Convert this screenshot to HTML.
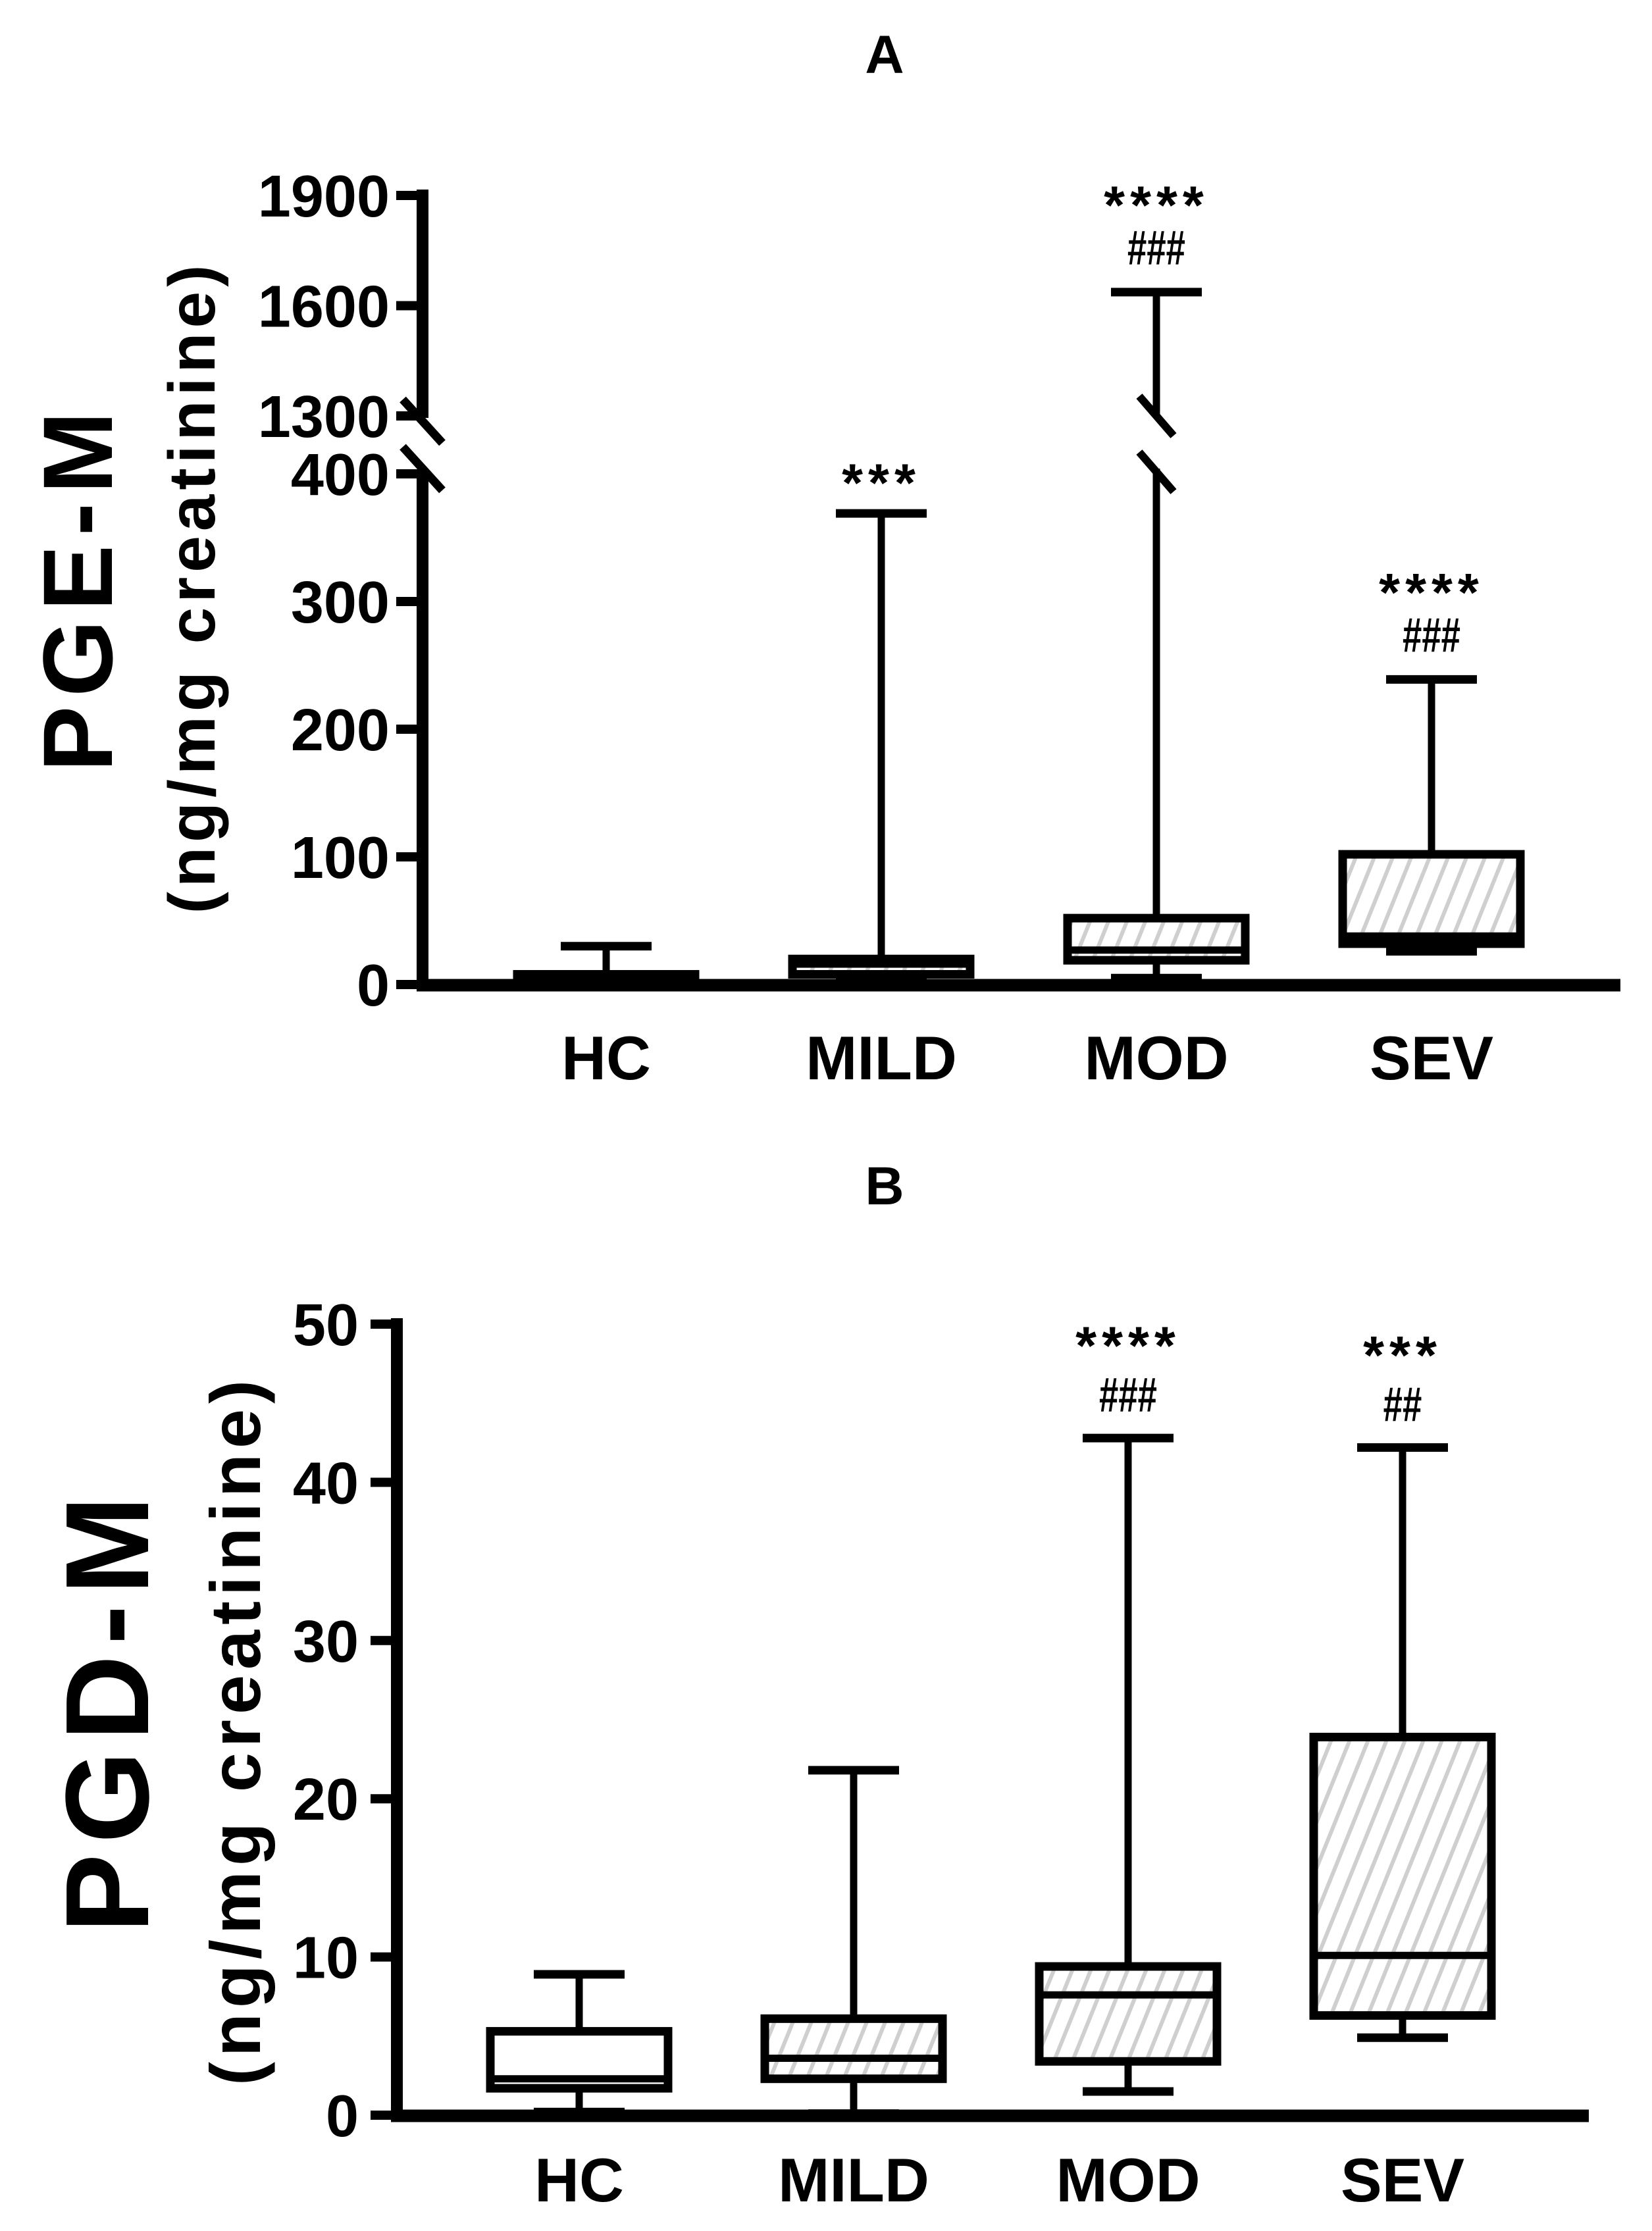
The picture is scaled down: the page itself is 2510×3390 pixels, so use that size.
<!DOCTYPE html>
<html><head><meta charset="utf-8">
<style>
html,body{margin:0;padding:0;background:#fff;}
svg{display:block;}
text{font-family:"Liberation Sans",Arial,sans-serif;font-weight:bold;fill:#000;}
</style></head>
<body>
<svg id="chart" width="2510" height="3390" viewBox="0 0 2510 3390" xmlns="http://www.w3.org/2000/svg">
<defs>
<pattern id="hatch" patternUnits="userSpaceOnUse" width="26" height="40" patternTransform="rotate(22)">
<line x1="6" y1="0" x2="6" y2="40" stroke="#cfcfcf" stroke-width="6"/>
</pattern>
</defs>
<g id="panelA"></g>
<g id="panelB"></g>
</svg>
<script>
// Panel A data
const catsA = ["HC","MILD","MOD","SEV"];
const minA = [0, 2, 5, 26];
const q1A = [1, 8, 19, 32];
const medA = [4, 16, 27, 38];
const q3A = [8, 20, 52, 102];
const maxA = [30, 369, 1637, 239];
const hatchA = [false, true, true, true];
const starsA = ["", "***", "****", "****"];
const hashA = ["", "", "###", "###"];
const ticksLowA = [0, 100, 200, 300, 400];
const ticksHighA = [1300, 1600, 1900];

// Panel B data
const catsB = ["HC","MILD","MOD","SEV"];
const minB = [0.2, 0.1, 1.5, 4.9];
const q1B = [1.7, 2.3, 3.4, 6.3];
const medB = [2.3, 3.6, 7.6, 10.1];
const q3B = [5.3, 6.1, 9.4, 23.9];
const maxB = [8.9, 21.8, 42.8, 42.2];
const hatchB = [false, true, true, true];
const starsB = ["", "", "****", "***"];
const hashB = ["", "", "###", "##"];
const ticksB = [0, 10, 20, 30, 40, 50];

const NS = "http://www.w3.org/2000/svg";
function mk(parent, tag, attrs, txt){
  const e = document.createElementNS(NS, tag);
  for (const k in attrs) e.setAttribute(k, attrs[k]);
  if (txt !== undefined) e.textContent = txt;
  parent.appendChild(e);
  return e;
}

function yA(v){
  if (v <= 400) return 1496 - v * (1496 - 720) / 400;
  return 632 - (v - 1300) * (632 - 297) / 600;
}
function xA(i){ return 921 + i * 418; }
function yB(v){ return 3214 - v * (3214 - 2012) / 50; }
function xB(i){ return 880 + i * 417; }

function drawBox(g, x, y, mn, q1, md, q3, mx, hatch, name, breakAt){
  const bw = 270, cw = 138;
  const bx = mk(g, "rect", {x: x - bw/2, y: y(q3), width: bw, height: Math.max(y(q1) - y(q3), 1), fill: hatch ? "url(#hatch)" : "#fff", stroke: "#000", "stroke-width": 13});
  
  
  const med = mk(g, "line", {x1: x - bw/2, x2: x + bw/2, y1: y(md), y2: y(md), stroke: "#000", "stroke-width": 11});
  
  
  if (breakAt) {
    const w1 = mk(g, "line", {x1: x, x2: x, y1: y(q3) - 6, y2: 712, stroke: "#000", "stroke-width": 11});
    
    
    const w2 = mk(g, "line", {x1: x, x2: x, y1: 632, y2: y(mx), stroke: "#000", "stroke-width": 11});
    
    
    for (const cy of [632, 717]) {
      const s = mk(g, "line", {x1: x - 26, y1: cy - 30, x2: x + 26, y2: cy + 30, stroke: "#000", "stroke-width": 12});
      
      
    }
  } else {
    const w = mk(g, "line", {x1: x, x2: x, y1: y(q3) - 6, y2: y(mx), stroke: "#000", "stroke-width": 11});
    
    
  }
  const cap = mk(g, "line", {x1: x - cw/2, x2: x + cw/2, y1: y(mx), y2: y(mx), stroke: "#000", "stroke-width": 13});
  
  
  const lw = mk(g, "line", {x1: x, x2: x, y1: y(q1) + 6, y2: y(mn), stroke: "#000", "stroke-width": 11});
  
  
  const lc = mk(g, "line", {x1: x - cw/2, x2: x + cw/2, y1: y(mn), y2: y(mn), stroke: "#000", "stroke-width": 13});
  
  
}

function annotate(g, x, capY, stars, hash, name, starDy, hashDy){
  if (stars) {
    const t = mk(g, "text", {x: x, y: capY - starDy, "text-anchor": "middle", "font-size": 82, "font-weight": "bold", "letter-spacing": 8}, stars);
    
    
  }
  if (hash) {
    const hy = capY - hashDy;
    const h = mk(g, "text", {x: x, y: hy, "text-anchor": "middle", "font-size": 62, "font-weight": "bold", transform: "translate(" + x + "," + hy + ") scale(0.85,1.2) translate(" + (-x) + "," + (-hy) + ")"}, hash);
    
    
  }
}

// ---------- Panel A ----------
const gA = document.getElementById("panelA");
const tA = mk(gA, "text", {x: 1344, y: 111, "text-anchor": "middle", "font-size": 82}, "A");



const axA = 642;
const ax1 = mk(gA, "line", {x1: axA, x2: axA, y1: 288, y2: 635, stroke: "#000", "stroke-width": 18});


const ax2 = mk(gA, "line", {x1: axA, x2: axA, y1: 713, y2: 1506, stroke: "#000", "stroke-width": 18});


for (const cy of [640, 712]) {
  const s = mk(gA, "line", {x1: axA - 30, y1: cy - 33, x2: axA + 30, y2: cy + 33, stroke: "#000", "stroke-width": 13});
  
  
}
const xaA = mk(gA, "line", {x1: axA - 9, x2: 2462, y1: 1497, y2: 1497, stroke: "#000", "stroke-width": 19});



for (const v of ticksLowA.concat(ticksHighA)) {
  const y = yA(v);
  const tk = mk(gA, "line", {x1: axA - 40, x2: axA, y1: y, y2: y, stroke: "#000", "stroke-width": 14});
  
  
  const lb = mk(gA, "text", {x: 592, y: y + 32, "text-anchor": "end", "font-size": 90}, String(v));
  
  
}
const yt1 = mk(gA, "text", {x: 0, y: 0, transform: "translate(170,892) rotate(-90)", "text-anchor": "middle", "font-size": 150, "letter-spacing": 14}, "PGE-M");


const ys1 = mk(gA, "text", {x: 0, y: 0, transform: "translate(326,892) rotate(-90)", "text-anchor": "middle", "font-size": 100, "letter-spacing": 7}, "(ng/mg creatinine)");



catsA.forEach((c, i) => {
  const x = xA(i);
  const nm = 'panel-a-' + c.toLowerCase();
  drawBox(gA, x, yA, minA[i], q1A[i], medA[i], q3A[i], maxA[i], hatchA[i], nm, maxA[i] > 400);
  annotate(gA, x, yA(maxA[i]), starsA[i], hashA[i], nm, hashA[i] ? 104 : 18, 42);
  const lb = mk(gA, "text", {x: x, y: 1640, "text-anchor": "middle", "font-size": 94}, c);
  
  
});

// ---------- Panel B ----------
const gB = document.getElementById("panelB");
const tB = mk(gB, "text", {x: 1344, y: 1830, "text-anchor": "middle", "font-size": 82}, "B");


const axB = 603;
const ayB = mk(gB, "line", {x1: axB, x2: axB, y1: 2003, y2: 3224, stroke: "#000", "stroke-width": 18});


const xaB = mk(gB, "line", {x1: axB - 9, x2: 2414, y1: 3215, y2: 3215, stroke: "#000", "stroke-width": 19});


for (const v of ticksB) {
  const y = yB(v);
  const tk = mk(gB, "line", {x1: axB - 40, x2: axB, y1: y, y2: y, stroke: "#000", "stroke-width": 14});
  
  
  const lb = mk(gB, "text", {x: 545, y: y + 32, "text-anchor": "end", "font-size": 90}, String(v));
  
  
}
const yt2 = mk(gB, "text", {x: 0, y: 0, transform: "translate(225,2597) rotate(-90)", "text-anchor": "middle", "font-size": 180, "letter-spacing": 16}, "PGD-M");


const ys2 = mk(gB, "text", {x: 0, y: 0, transform: "translate(395,2629) rotate(-90)", "text-anchor": "middle", "font-size": 108, "letter-spacing": 8}, "(ng/mg creatinine)");



catsB.forEach((c, i) => {
  const x = xB(i);
  const nm = 'panel-b-' + c.toLowerCase();
  drawBox(gB, x, yB, minB[i], q1B[i], medB[i], q3B[i], maxB[i], hatchB[i], nm, false);
  annotate(gB, x, yB(maxB[i]), starsB[i], hashB[i], nm, 112, 40);
  const lb = mk(gB, "text", {x: x, y: 3345, "text-anchor": "middle", "font-size": 94}, c);
  
  
});
</script>
</body></html>
